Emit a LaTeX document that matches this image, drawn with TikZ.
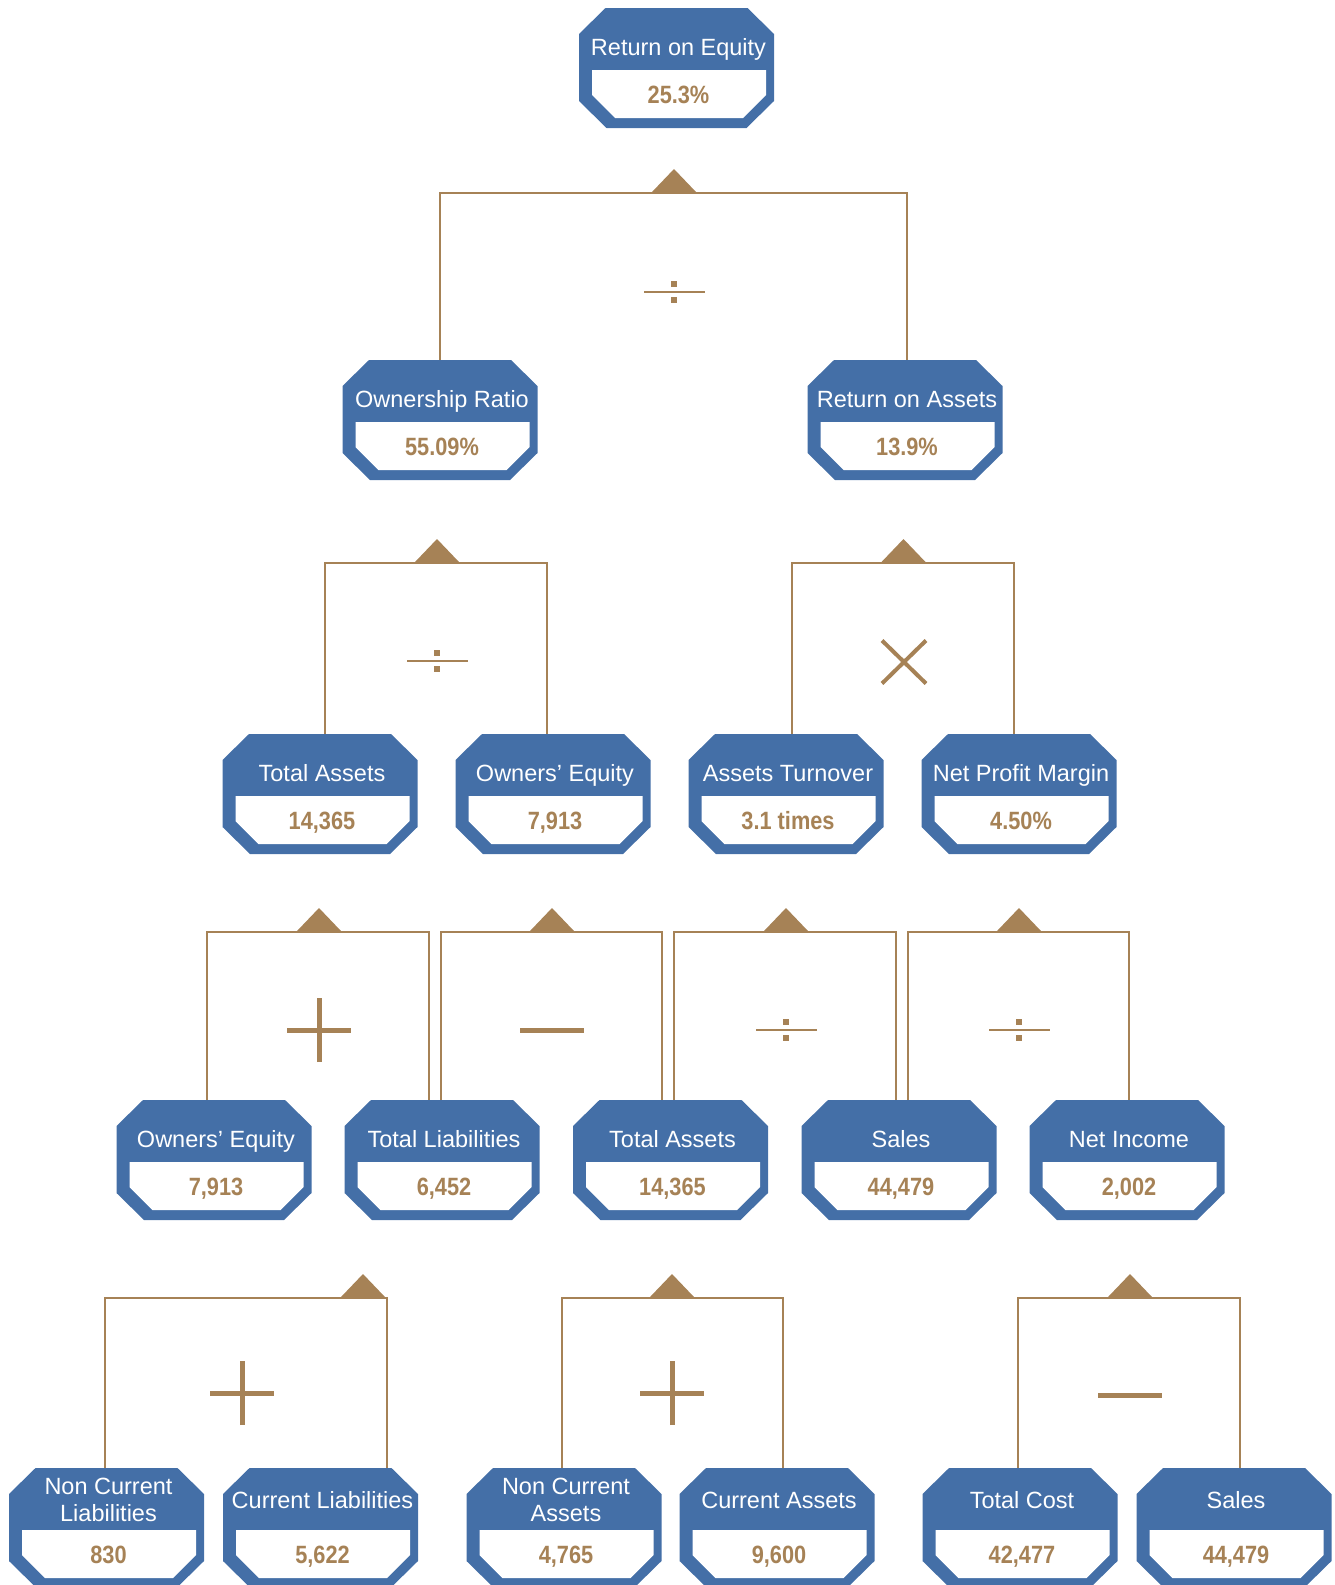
\documentclass[tikz,border=0pt]{standalone}
\usepackage{fontspec}
\setmainfont{Liberation Sans}
\newfontfamily\valfont[FakeStretch=0.87]{Liberation Sans}
\definecolor{boxblue}{RGB}{68,111,167}
\definecolor{linkbrown}{RGB}{166,130,86}

% one ratio box: [title baseline]{name}{position}{title}{value}
\newcommand{\ratiobox}[5][47pt]{%
  \node[finbox] (#2) at (#3) {};
  \node[fintitle] (#2-t) at ([xshift=2pt,yshift=-#1]#2.north) {#4};
  \node[finval] (#2-v) at ([xshift=2pt,yshift=-95pt]#2.north) {#5};
}

\begin{document}
\begin{tikzpicture}[x=1pt,y=-1pt,
  finbox/.style={rectangle,minimum width=195pt,minimum height=120pt,inner sep=0pt,outer sep=0pt,
    path picture={
      \begin{scope}[shift={(path picture bounding box.center)}]
        \fill[boxblue] (-71pt,60pt) -- (71pt,60pt) -- (97.5pt,34pt) -- (97.5pt,-33pt) -- (70pt,-60pt)
          -- (-70pt,-60pt) -- (-97.5pt,-33pt) -- (-97.5pt,34pt) -- cycle;
        \fill[white] (-84.5pt,-2pt) -- (89.5pt,-2pt) -- (89.5pt,-27pt) -- (66.5pt,-50pt)
          -- (-61.5pt,-50pt) -- (-84.5pt,-27pt) -- cycle;
      \end{scope}}},
  fintitle/.style={anchor=base,inner sep=0pt,text=white,align=center,font=\fontsize{23.5}{26.5}\selectfont},
  finval/.style={anchor=base,inner sep=0pt,text=linkbrown,font=\valfont\bfseries\fontsize{25}{28}\selectfont},
  link/.style={draw=linkbrown,line width=2.6pt},
  wedge/.style={fill=linkbrown},
  opdiv/.pic={
    \fill[linkbrown] (-30.5pt,-1.4pt) rectangle (30.5pt,1.4pt);
    \fill[linkbrown] (-3pt,5pt) rectangle (3pt,11pt);
    \fill[linkbrown] (-3pt,-5pt) rectangle (3pt,-11pt);},
  opplus/.pic={\draw[linkbrown,line width=5pt] (-32pt,0pt) -- (32pt,0pt) (0pt,-32pt) -- (0pt,32pt);},
  opminus/.pic={\draw[linkbrown,line width=5pt] (-32pt,0pt) -- (32pt,0pt);},
  optimes/.pic={\draw[linkbrown,line width=4pt] (-22pt,-21.5pt) -- (22pt,21.5pt) (-22pt,21.5pt) -- (22pt,-21.5pt);}
  ]
  \useasboundingbox (0,0) rectangle (1334,1585);

  % level 0 and 1
  \ratiobox{roe}{676.5,68}{Return on Equity}{25.3\%}
  \ratiobox{own}{440,420}{Ownership Ratio}{55.09\%}
  \ratiobox{roa}{905,420}{Return on Assets}{13.9\%}

  % level 2
  \ratiobox{ta}{320,794}{Total Assets}{14,365}
  \ratiobox{oe}{553,794}{Owners’ Equity}{7,913}
  \ratiobox{at}{786,794}{Assets Turnover}{3.1 times}
  \ratiobox{npm}{1019,794}{Net Profit Margin}{4.50\%}

  % level 3
  \ratiobox{oe2}{214,1160}{Owners’ Equity}{7,913}
  \ratiobox{tl}{442,1160}{Total Liabilities}{6,452}
  \ratiobox{ta2}{670.5,1160}{Total Assets}{14,365}
  \ratiobox{sales}{899,1160}{Sales}{44,479}
  \ratiobox{ni}{1127,1160}{Net Income}{2,002}

  % level 4 (two-line titles sit on their last baseline)
  \ratiobox[53pt]{ncl}{106.5,1528}{Non Current\\Liabilities}{830}
  \ratiobox[40pt]{cl}{320.5,1528}{Current Liabilities}{5,622}
  \ratiobox[53pt]{nca}{564,1528}{Non Current\\Assets}{4,765}
  \ratiobox[40pt]{ca}{777,1528}{Current Assets}{9,600}
  \ratiobox[40pt]{tc}{1020,1528}{Total Cost}{42,477}
  \ratiobox[40pt]{sales2}{1234,1528}{Sales}{44,479}

  % brackets
  \coordinate (b0) at (674,193);
  \coordinate (b1a) at (437,563);
  \coordinate (b1b) at (903.5,563);
  \coordinate (b2a) at (319,932);
  \coordinate (b2b) at (552,932);
  \coordinate (b2c) at (786,932);
  \coordinate (b2d) at (1019,932);
  \coordinate (b3a) at (363,1298);
  \coordinate (b3b) at (672,1298);
  \coordinate (b3c) at (1130,1298);

  \draw[link] (own.north) |- (b0) -| ([xshift=2pt]roa.north);
  \draw[link] ([xshift=5pt]ta.north) |- (b1a) -| ([xshift=-6pt]oe.north);
  \draw[link] ([xshift=6pt]at.north) |- (b1b) -| ([xshift=-5pt]npm.north);
  \draw[link] ([xshift=-7pt]oe2.north) |- (b2a) -| ([xshift=-13pt]tl.north);
  \draw[link] ([xshift=-1pt]tl.north) |- (b2b) -| ([xshift=-8.5pt]ta2.north);
  \draw[link] ([xshift=3.5pt]ta2.north) |- (b2c) -| ([xshift=-3pt]sales.north);
  \draw[link] ([xshift=9pt]sales.north) |- (b2d) -| ([xshift=2pt]ni.north);
  \draw[link] ([xshift=-1.5pt]ncl.north) |- (b3a) -| ([xshift=66.5pt]cl.north);
  \draw[link] ([xshift=-2pt]nca.north) |- (b3b) -| ([xshift=6pt]ca.north);
  \draw[link] ([xshift=-2pt]tc.north) |- (b3c) -| ([xshift=6pt]sales2.north);

  \foreach \b in {b0,b1a,b1b,b2a,b2b,b2c,b2d,b3a,b3b,b3c}
    \fill[wedge] ([yshift=1pt]\b) ++(-22,0) -- ++(22,-23) -- ++(22,23) -- cycle;

  % operators
  \pic at (674,292) {opdiv};
  \pic at (437,661) {opdiv};
  \pic at (904,662) {optimes};
  \pic at (319,1030) {opplus};
  \pic at (552,1030) {opminus};
  \pic at (786,1030) {opdiv};
  \pic at (1019,1030) {opdiv};
  \pic at (242,1393) {opplus};
  \pic at (672,1393) {opplus};
  \pic at (1130,1395) {opminus};
\end{tikzpicture}
\end{document}
